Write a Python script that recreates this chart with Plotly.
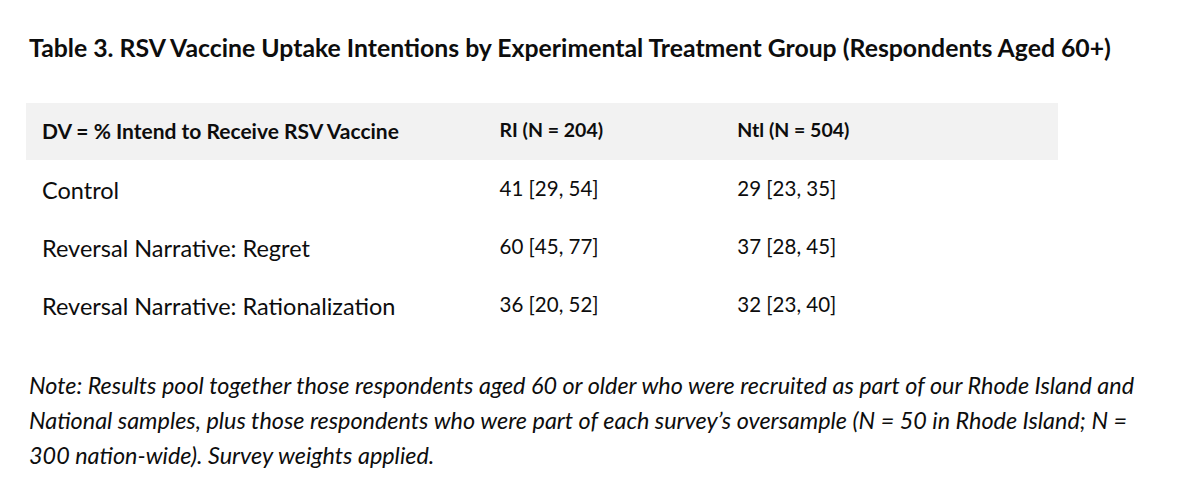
import plotly.graph_objects as go

W, H = 1200, 487
OFF = 8  # page body margin of the html page

title = "Table 3. RSV Vaccine Uptake Intentions by Experimental Treatment Group (Respondents Aged 60+)"
headers = ["DV = % Intend to Receive RSV Vaccine", "RI (N = 204)", "Ntl (N = 504)"]
conditions = ["Control", "Reversal Narrative: Regret", "Reversal Narrative: Rationalization"]
ri_values = ["41 [29, 54]", "60 [45, 77]", "36 [20, 52]"]
ntl_values = ["29 [23, 35]", "37 [28, 45]", "32 [23, 40]"]
note_lines = [
    "Note: Results pool together those respondents aged 60 or older who were recruited as part of our Rhode Island and",
    "National samples, plus those respondents who were part of each survey\u2019s oversample (N = 50 in Rhode Island; N =",
    "300 nation-wide). Survey weights applied.",
]

FONT = "Lato"
INK = "#0d0d0d"


def px_x(p):
    return (p - OFF) / W


def px_y(p):
    return 1 - (p - OFF) / H


band_x0, band_x1 = 26, 1058
band_top, band_bot = 103, 160
tbl_top = 110
hdr_h, row_h = 63, 58
tbl_x0 = 34
col_w = [458, 238, 328]

fig = go.Figure()
fig.add_trace(go.Table(
    domain=dict(x=[px_x(tbl_x0), px_x(band_x1)],
                y=[px_y(tbl_top + hdr_h + row_h * 3 + 4), px_y(tbl_top)]),
    columnwidth=col_w,
    header=dict(values=["<b>%s</b>" % h for h in headers],
                fill_color="rgba(0,0,0,0)", line_color="rgba(0,0,0,0)",
                align="left", height=hdr_h,
                font=dict(family=FONT, size=[21, 19.5, 19.5], color=INK)),
    cells=dict(values=[conditions, ri_values, ntl_values],
               fill_color="rgba(0,0,0,0)", line_color="rgba(0,0,0,0)",
               align="left", height=row_h,
               font=dict(family=FONT, size=[23.5, 20.5, 20.5], color=INK)),
))

fig.add_shape(type="rect", xref="paper", yref="paper",
              x0=px_x(band_x0), x1=px_x(band_x1),
              y0=px_y(band_bot), y1=px_y(band_top),
              fillcolor="#f2f2f2", line_width=0, layer="below")

fig.add_annotation(text="<b>%s</b>" % title, xref="paper", yref="paper",
                   x=px_x(27), y=px_y(47.5), xanchor="left", yanchor="middle",
                   showarrow=False, font=dict(family=FONT, size=24.8, color=INK))

for i, line in enumerate(note_lines):
    fig.add_annotation(text="<i>%s</i>" % line, xref="paper", yref="paper",
                       x=px_x(27), y=px_y(384.5 + 35 * i), xanchor="left", yanchor="middle",
                       showarrow=False, font=dict(family=FONT, size=23.4, color=INK))

fig.update_layout(width=W, height=H, margin=dict(l=0, r=0, t=0, b=0),
                  paper_bgcolor="white", plot_bgcolor="white")

fig.write_html("out.html")
